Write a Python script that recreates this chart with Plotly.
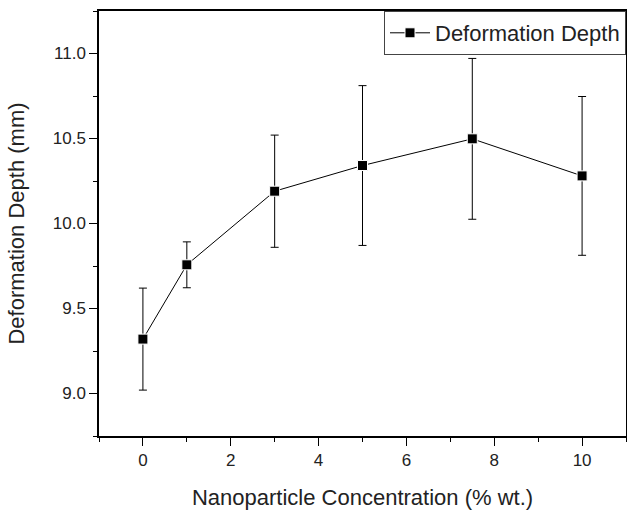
import plotly.graph_objects as go

concentration = [0, 1, 3, 5, 7.5, 10]
depth = [9.32, 9.757, 10.19, 10.341, 10.498, 10.28]
depth_err = [0.30, 0.135, 0.33, 0.47, 0.473, 0.467]

x_ticks = [0, 2, 4, 6, 8, 10]
y_ticks = [9.0, 9.5, 10.0, 10.5, 11.0]

FONT = "Liberation Sans, Arial, sans-serif"

fig = go.Figure()
fig.add_trace(go.Scatter(
    x=concentration, y=depth, mode="lines+markers",
    name="Deformation Depth",
    line=dict(color="black", width=1),
    marker=dict(symbol="square", size=10, color="black",
                line=dict(color="white", width=1)),
    error_y=dict(type="data", array=depth_err, visible=True,
                 color="black", thickness=1, width=4),
))

axis_common = dict(
    showline=True, linecolor="black", linewidth=1.5, mirror=True,
    ticks="outside", ticklen=8, tickwidth=1.2, tickcolor="black",
    showgrid=False, zeroline=False,
    tickfont=dict(family=FONT, size=17, color="#222"),
)

fig.update_xaxes(
    range=[-1, 11], tickvals=x_ticks,
    ticktext=[str(v) for v in x_ticks],
    minor=dict(dtick=1, tick0=-1, ticks="outside", ticklen=4,
               tickwidth=1.2, tickcolor="black"),
    title=dict(text="Nanoparticle Concentration (% wt.)",
               font=dict(family=FONT, size=22, color="#222"), standoff=20),
    **axis_common,
)
fig.update_yaxes(
    range=[8.75, 11.25], tickvals=y_ticks,
    ticktext=[f"{v:.1f}" for v in y_ticks],
    minor=dict(dtick=0.25, tick0=8.75, ticks="outside", ticklen=4,
               tickwidth=1.2, tickcolor="black"),
    title=dict(text="Deformation Depth (mm)",
               font=dict(family=FONT, size=22, color="#222"), standoff=22),
    **axis_common,
)

fig.update_layout(
    width=627, height=512,
    margin=dict(l=99, r=1, t=11, b=76, autoexpand=False),
    paper_bgcolor="white", plot_bgcolor="white",
    showlegend=True,
    legend=dict(x=1, y=1, xanchor="right", yanchor="top",
                bgcolor="white", bordercolor="#444", borderwidth=1,
                font=dict(family=FONT, size=22, color="#222"),
                itemwidth=40, tracegroupgap=0),
)

fig.write_html("out.html")
